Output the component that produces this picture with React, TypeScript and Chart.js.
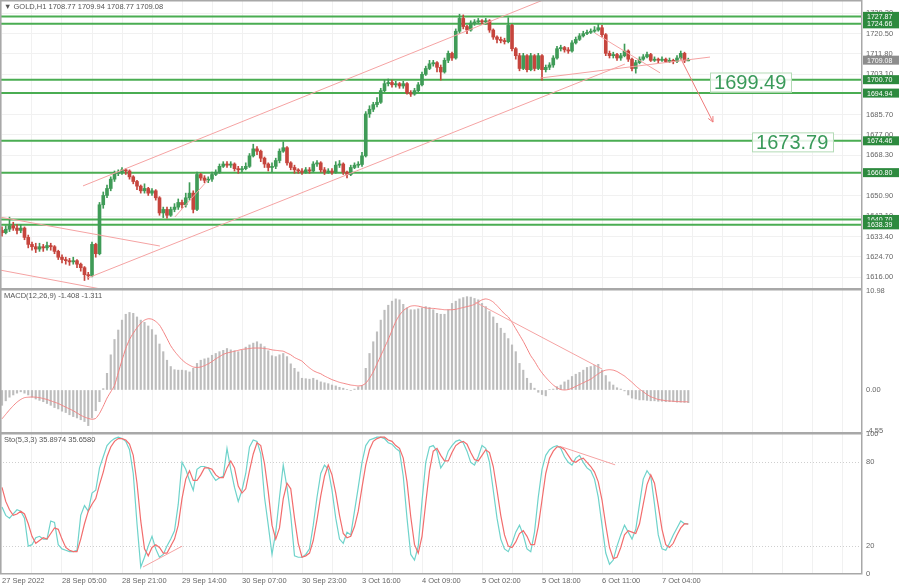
import React, { useEffect, useRef } from "react";
import { Chart, registerables } from "chart.js";

Chart.register(...registerables);

const FONT = "'Liberation Sans', 'DejaVu Sans', Arial, sans-serif";

// ---------- axis labels ----------
const xLabels = [
  "27 Sep 2022", "28 Sep 05:00", "28 Sep 21:00", "29 Sep 14:00", "30 Sep 07:00", "30 Sep 23:00",
  "3 Oct 16:00", "4 Oct 09:00", "5 Oct 02:00", "5 Oct 18:00", "6 Oct 11:00", "7 Oct 04:00",
];
const barsPerLabel = 16;
const gridTicks = [0, 8, 16, 24, 32, 40, 48, 56, 64, 72, 80, 88, 96, 104, 112, 120, 128, 136, 144, 152, 160, 168, 176, 184, 192, 200, 208, 216, 224];
const priceTicks = [1616.0, 1624.7, 1633.4, 1642.1, 1650.9, 1668.3, 1677.0, 1685.7, 1703.1, 1711.8, 1720.5, 1729.2];
const macdTicks = [10.98, 0, -4.55];
const stochTicks = [0, 20, 80, 100];
const stochLevels = [20, 80];

// ---------- GOLD H1 candles ----------
const firstOpen = 1636;
const closes = [
  1635, 1636.5, 1638, 1637, 1636, 1637, 1633, 1630, 1629, 1628,
  1629, 1628.5, 1629.5, 1629, 1627, 1624.5, 1623.5, 1623, 1622.5, 1623,
  1621.5, 1620, 1617, 1616.5, 1630, 1626, 1647, 1651, 1654, 1658,
  1660.5, 1661, 1662, 1661.5, 1659, 1657, 1655, 1653, 1654, 1652,
  1653, 1650, 1643.5, 1645, 1642.5, 1645, 1646, 1648, 1647, 1650,
  1652, 1645, 1660, 1658.5, 1657.5, 1658, 1660, 1661, 1663.5, 1664.5,
  1664, 1664.5, 1662.5, 1662, 1662.5, 1663.5, 1668, 1671, 1670, 1667,
  1664.5, 1663, 1663.5, 1666, 1670, 1671.5, 1665, 1663, 1662, 1661.5,
  1661, 1662, 1661.5, 1664.5, 1665, 1662, 1661, 1661.5, 1661, 1664,
  1664.5, 1661, 1660, 1663, 1664, 1664.3, 1668, 1686, 1688, 1690,
  1691, 1696, 1699, 1699.5, 1698.5, 1699, 1698, 1699, 1695, 1694.5,
  1696, 1698.5, 1703, 1705.5, 1707.5, 1708, 1706, 1704, 1709, 1712,
  1710, 1721.5, 1727, 1723.5, 1722, 1725, 1725.5, 1726, 1725.5, 1726,
  1722, 1719, 1718, 1717.5, 1717, 1724, 1714, 1711, 1705.5, 1711,
  1705, 1711, 1705.5, 1711, 1705, 1706, 1707, 1710, 1714, 1714.5,
  1713.5, 1713, 1716.5, 1718, 1719.5, 1720.5, 1721, 1721.5, 1722, 1723,
  1720, 1712, 1711, 1711.5, 1710, 1711, 1713, 1709.5, 1705.5, 1708,
  1709.5, 1710.5, 1711.5, 1709, 1709.5, 1709, 1709.5, 1708.5, 1709, 1708.5,
  1710, 1712, 1708.77, 1709.08,
];
const highs = [
  1637.5, 1638, 1641.7, 1639.5, 1638.5, 1638.5, 1637.5, 1634, 1631, 1630.5,
  1630.5, 1630, 1631, 1630.5, 1629.5, 1627.5, 1625.5, 1624.5, 1624, 1624.5,
  1623.5, 1622, 1620.5, 1618, 1631, 1630.5, 1648, 1652.5, 1655.5, 1659,
  1661.5, 1662, 1663, 1662.5, 1662, 1659.5, 1657.5, 1655.5, 1656, 1654.5,
  1654, 1653.5, 1650.5, 1646, 1646, 1646, 1647.5, 1649.5, 1649, 1652,
  1656.5, 1653, 1661, 1660.5, 1659.5, 1659, 1661, 1662, 1664.5, 1665.5,
  1665.5, 1665.5, 1665, 1663.5, 1663.5, 1665, 1669, 1673, 1672, 1670.5,
  1667.5, 1665, 1665, 1667, 1671, 1674, 1672, 1665.5, 1664, 1662.5,
  1662.5, 1663, 1663, 1665.5, 1666, 1665.5, 1663, 1662.5, 1662.5, 1665.5,
  1666, 1665, 1661.5, 1664, 1665, 1665.5, 1669.5, 1687, 1689.5, 1691,
  1693, 1697, 1700.5, 1701, 1700.5, 1700, 1699.5, 1700, 1699.5, 1696,
  1697, 1699.5, 1704, 1706.5, 1709, 1709, 1708.5, 1707, 1710, 1713,
  1712.5, 1722.5, 1728.8, 1728.5, 1724, 1726, 1726.5, 1727, 1726.5, 1727,
  1726.5, 1722.5, 1719.5, 1719, 1718.5, 1727.3, 1724.5, 1714.5, 1712, 1712,
  1711.5, 1712, 1711.5, 1712, 1711.5, 1707, 1708, 1711, 1715, 1715.5,
  1715, 1714.5, 1717.5, 1719, 1720.5, 1721.5, 1722, 1722.5, 1723.5, 1724.5,
  1724, 1720.5, 1713, 1712.5, 1712, 1712, 1716, 1713.5, 1710, 1709,
  1710.5, 1711.5, 1712.5, 1712, 1710.5, 1710, 1710.5, 1710, 1710, 1709.5,
  1711, 1713, 1712.5, 1709.94,
];
const lows = [
  1633.5, 1634.5, 1635.5, 1636, 1634.5, 1635, 1632, 1628.5, 1627.5, 1626.5,
  1627, 1627, 1627.5, 1627.5, 1626, 1623.5, 1622, 1621.5, 1621, 1621.5,
  1620, 1618.5, 1614.5, 1615, 1616, 1624.5, 1625.5, 1645.5, 1650, 1653,
  1657, 1659.5, 1660, 1660, 1658, 1656, 1653.5, 1652, 1652, 1651,
  1651, 1649, 1642.5, 1641.5, 1641.3, 1642, 1644, 1645, 1645.5, 1646,
  1649, 1643.5, 1644.5, 1657.5, 1656.5, 1656.5, 1657, 1659.5, 1660.5, 1663,
  1663, 1663, 1661.5, 1660.5, 1661, 1662, 1663, 1667.5, 1668.5, 1665.5,
  1663, 1661.5, 1661, 1662.5, 1665, 1669.5, 1664, 1662, 1660.5, 1660.5,
  1660, 1660.5, 1660.5, 1661, 1663.5, 1661, 1660, 1660.5, 1660, 1660.5,
  1663, 1660, 1658.5, 1659.5, 1662.5, 1663, 1663.5, 1667.5, 1684.5, 1687,
  1689, 1690.5, 1695.5, 1698, 1697.5, 1697.5, 1697, 1697, 1694.5, 1693.5,
  1694, 1695.5, 1698, 1702.5, 1705, 1706.5, 1704, 1700.5, 1703.5, 1708,
  1709, 1709.5, 1720.5, 1722.5, 1720.5, 1721.5, 1724, 1725, 1724.5, 1724.5,
  1721, 1718, 1716.5, 1716.5, 1716, 1716.5, 1713, 1709.5, 1704.5, 1705,
  1704, 1704.5, 1704.5, 1705, 1700.5, 1704, 1705, 1706, 1709.5, 1713,
  1712.5, 1712, 1712.5, 1716, 1717.5, 1719, 1720, 1720.5, 1721, 1721.5,
  1719, 1711, 1710, 1710, 1709, 1709, 1710.5, 1708.5, 1704.5, 1703.5,
  1707.5, 1709, 1710, 1708.5, 1708.5, 1708, 1708.5, 1708, 1708, 1707.5,
  1708, 1709.5, 1708, 1708.77,
];

// ---------- MACD(12,26,9) ----------
const macdHist = [
  -1.7, -1.2, -0.8, -0.55, -0.35, -0.2, -0.35, -0.55, -0.8, -1.0,
  -1.15, -1.3, -1.5, -1.7, -1.95, -2.1, -2.35, -2.5, -2.75, -2.95,
  -3.1, -3.3, -3.5, -3.95, -3.1, -2.3, -1.3, 0.15, 1.85, 3.9,
  5.6, 6.65, 7.75, 8.4, 8.6, 8.5, 8.1, 7.75, 7.5, 7.1,
  6.7, 6.1, 5.1, 4.25, 3.3, 2.6, 2.25, 2.2, 2.2, 2.15,
  2.0, 2.4, 2.95, 3.3, 3.45, 3.55, 3.85, 4.05, 4.25, 4.4,
  4.6, 4.45, 4.35, 4.25, 4.4, 4.75, 5.0, 5.2, 5.35, 5.1,
  4.8, 4.35, 3.8, 3.7, 3.9, 4.05, 3.7, 2.9, 2.4, 2.0,
  1.3, 1.25, 1.2, 1.3, 1.1, 0.9, 0.8, 0.7, 0.55, 0.45,
  0.3, 0.2, 0.05, -0.05, 0.1, 0.35, 0.5, 2.4, 4.05, 5.35,
  6.45, 7.75, 8.85, 9.4, 9.85, 10.1, 10.0, 9.5, 9.1, 8.9,
  8.9, 9.0, 9.1, 9.25, 9.15, 8.9, 8.5, 8.4, 8.4, 8.9,
  9.6, 9.85, 10.1, 10.25, 10.35, 10.3, 10.15, 10.0, 9.6, 9.25,
  8.7, 8.1, 7.4, 6.85, 6.3, 5.7, 5.0, 4.25, 2.95, 2.2,
  1.3, 0.75, 0.2, -0.25, -0.5, -0.65, 0.05, 0.1, 0.37, 0.55,
  0.9, 1.1, 1.5, 1.75, 1.95, 2.2, 2.5, 2.6, 2.75, 2.85,
  2.2, 1.6, 0.9, 0.55, 0.25, 0.1, -0.1, -0.55, -0.9, -1.0,
  -1.1, -1.1, -1.15, -1.2, -1.2, -1.25, -1.25, -1.3, -1.3, -1.3,
  -1.35, -1.35, -1.38, -1.408,
];
const macdSignal = [
  -3.2, -2.7, -2.2, -1.75, -1.35, -1.05, -0.85, -0.8, -0.78, -0.8,
  -0.85, -0.95, -1.05, -1.2, -1.35, -1.5, -1.7, -1.9, -2.1, -2.3,
  -2.55, -2.8, -3.0, -3.15, -3.25, -3.15, -2.6, -1.8, -0.9, -0.2,
  0.5, 1.9, 3.3, 4.6, 5.6, 6.3, 6.9, 7.4, 7.75, 7.9,
  7.85, 7.6, 7.2, 6.5, 5.7, 4.9, 4.3, 3.8, 3.35, 3.0,
  2.75, 2.55, 2.5, 2.55, 2.7, 2.9, 3.15, 3.45, 3.7, 3.95,
  4.1, 4.2, 4.3, 4.4, 4.5, 4.55, 4.6, 4.65, 4.65, 4.65,
  4.6, 4.55, 4.45, 4.4, 4.35, 4.3, 4.1, 3.9, 3.6, 3.4,
  3.2, 2.8, 2.45, 2.15, 1.95, 1.8, 1.55, 1.35, 1.15, 1.0,
  0.85, 0.75, 0.65, 0.55, 0.5, 0.45, 0.5, 0.75, 1.3, 2.0,
  2.9, 3.8, 4.7, 5.6, 6.6, 7.6, 8.3, 8.8, 9.1, 9.3,
  9.35, 9.3, 9.2, 9.1, 9.05, 9.05, 9.0, 8.95, 8.9, 8.9,
  8.9, 8.95, 9.05, 9.15, 9.25, 9.35, 9.5, 9.75, 10.0, 10.1,
  10.0, 9.75, 9.35, 8.9, 8.45, 8.1, 7.5, 6.8, 6.1, 5.4,
  4.6, 3.8, 3.2, 2.5, 1.9, 1.4, 0.95, 0.55, 0.25, 0.05,
  0.0, 0.05, 0.2, 0.4, 0.6, 0.8, 1.0, 1.2, 1.5, 1.8,
  2.05, 2.2, 2.25, 2.2, 2.05, 1.8, 1.55, 1.2, 0.85, 0.45,
  0.1, -0.2, -0.5, -0.75, -0.9, -1.05, -1.12, -1.18, -1.22, -1.25,
  -1.28, -1.3, -1.3, -1.311,
];

// ---------- Stochastic(5,3,3) ----------
const stochK = [
  48, 42, 40, 43, 46, 45, 40, 20, 21, 26,
  27, 25, 25, 38, 37, 21, 18, 17, 16, 16,
  17, 42, 49, 45, 58, 60, 76, 84, 92, 95,
  97, 98, 97, 95, 89, 72, 36, 5, 12, 20,
  27, 18, 12, 14, 20, 25, 31, 50, 80, 75,
  67, 60, 75, 77, 77, 76, 71, 67, 69, 70,
  90, 75, 62, 52, 60, 72, 91, 96, 95, 86,
  55, 35, 14, 30, 55, 78, 62, 42, 13, 12,
  12, 14, 18, 35, 55, 72, 78, 75, 60, 40,
  25, 22, 30, 28, 45, 62, 80, 92, 96, 97,
  98, 98, 97, 94, 93, 90, 88, 70, 40, 14,
  10, 20, 52, 80, 91, 92, 88, 76, 80, 88,
  92, 95, 96, 94, 88, 80, 78, 84, 92, 90,
  80, 60, 40, 25, 18, 16, 22, 30, 35, 28,
  18, 16, 30, 55, 75, 85, 89, 91, 92, 90,
  84, 80, 78, 83, 85, 80, 76, 74, 68, 55,
  35, 15, 7, 10, 20, 28, 35, 30, 25, 32,
  50, 68, 74, 70, 50, 28, 18, 17, 22, 28,
  33, 38, 36, 35.8974,
];
const stochD = [
  62, 52, 46, 42, 43, 45, 43, 36, 27, 22,
  24, 26, 25, 29, 33, 32, 25, 19, 17, 16,
  16, 25, 36, 45, 50, 54, 64, 73, 84, 91,
  95, 97, 97, 96, 93, 85, 65, 38, 18, 13,
  19, 21, 19, 15, 15, 20, 25, 35, 54, 68,
  74, 67, 67, 71, 76, 76, 75, 71, 69, 69,
  76, 81, 76, 63, 58, 61, 74, 86, 94, 92,
  79, 59, 35, 25, 33, 54, 65, 61, 40, 22,
  12, 13, 15, 24, 39, 56, 70, 78, 71, 58,
  42, 29, 26, 27, 34, 45, 62, 78, 89, 95,
  97, 98, 98, 96, 95, 92, 90, 83, 66, 41,
  21, 15, 27, 51, 74, 88, 90, 85, 81, 81,
  87, 92, 94, 95, 93, 87, 82, 81, 85, 89,
  87, 77, 60, 42, 28, 20, 19, 23, 29, 31,
  27, 21, 21, 34, 53, 72, 83, 88, 91, 91,
  89, 85, 81, 80, 82, 83, 80, 77, 73, 66,
  53, 35, 19, 11, 12, 19, 28, 31, 30, 29,
  36, 50, 64, 71, 65, 49, 32, 21, 19, 22,
  28, 33, 36, 35.658,
];

// ---------- drawing objects ----------
const levels = [1727.87, 1724.66, 1700.7, 1694.94, 1674.46, 1660.8, 1640.7, 1638.39];
const currentPrice = 1709.08;
const targetPrices = [1699.49, 1673.79];
const targetBars = [188.8, 200];
const priceTrendLines = [
  [[21.6, 1655.1], [144.3, 1734.9]],
  [[22.9, 1615.6], [166.1, 1707.4]],
  [[143.5, 1701.4], [188.8, 1710.4]],
  [[158.1, 1720.7], [175.5, 1703.6]],
  [[-0.6, 1641.75], [42.1, 1629.3]],
  [[-0.6, 1619.0], [26.5, 1610.8]],
  [[46.1, 1641.75], [54.9, 1657.6]],
];
const arrowLine = [[180.8, 1710.4], [189.6, 1682.5]];
const macdTrendLines = [[[126.1, 9.76], [160, 2.33]]];
const stochTrendLines = [
  [[37.6, 5], [48, 19.9]],
  [[149.3, 91], [163.5, 78.2]],
];

const mainTitle = "▼ GOLD,H1 1708.77 1709.94 1708.77 1709.08";
const macdTitle = "MACD(12,26,9) -1.408 -1.311";
const stochTitle = "Sto(5,3,3) 35.8974 35.6580";

// ---------- style ----------
const UP = "#3f9b57";
const DOWN = "#c6453d";
const LEVEL = "#4aad52";
const LEVEL_LABEL = "#2d8a3e";
const TREND = "#f5a3a3";
const SIGNAL = "#f38383";
const HIST = "#bdbdbd";
const K_COLOR = "#6fd3cb";
const D_COLOR = "#f26d6d";
const GRID = "#f1f1f1";
const FRAME = "#a8a8a8";
const TEXT = "#666";
const X_MIN = -0.533;
const X_MAX = 229.33;
const AXIS_W = 38;
const PAD = 6;

const opens = closes.map((c, i) => (i === 0 ? firstOpen : closes[i - 1]));
const candleColors = closes.map((c, i) => (c >= opens[i] ? UP : DOWN));

function segDatasets(lines: number[][][], color: string, order = 0) {
  return lines.map((l) => ({
    type: "line" as const,
    data: l.map((p) => ({ x: p[0], y: p[1] })),
    borderColor: color,
    borderWidth: 1,
    pointRadius: 0,
    fill: false,
    tension: 0,
    order,
  }));
}

function noPad(s: any) {
  s.paddingTop = 0;
  s.paddingBottom = 0;
  s.paddingLeft = 0;
  s.paddingRight = 0;
}

function xScale(showLabels: boolean) {
  return {
    type: "linear" as const,
    min: X_MIN,
    max: X_MAX,
    offset: false,
    grid: { color: GRID, drawTicks: false, offset: false },
    border: { display: false },
    ticks: showLabels
      ? {
          display: true,
          autoSkip: false,
          maxRotation: 0,
          minRotation: 0,
          align: "start" as const,
          padding: 2,
          color: TEXT,
          font: { family: FONT, size: 7.5 },
          callback: (v: any) =>
            v % barsPerLabel === 0 && v / barsPerLabel < xLabels.length ? xLabels[v / barsPerLabel] : "",
        }
      : { display: false },
    afterBuildTicks: (s: any) => {
      s.ticks = gridTicks.map((v) => ({ value: v }));
    },
    afterFit: (s: any) => {
      s.height = showLabels ? 11 : 0;
      noPad(s);
    },
  };
}

function yScale(min: number, max: number, ticks: number[], fmt: (v: number) => string, gridOn: boolean) {
  return {
    position: "right" as const,
    min,
    max,
    grid: { color: gridOn ? GRID : "rgba(0,0,0,0)", drawTicks: false },
    border: { display: false },
    ticks: {
      color: TEXT,
      font: { family: FONT, size: 7.5 },
      padding: 4,
      autoSkip: false,
      callback: (v: any) => fmt(Number(v)),
    },
    afterBuildTicks: (s: any) => {
      s.ticks = ticks.map((v) => ({ value: v }));
    },
    afterFit: (s: any) => {
      s.width = AXIS_W;
      noPad(s);
    },
  };
}

function framePlugin(title: string) {
  return {
    id: "frame_" + title.slice(0, 4),
    afterDraw(chart: any) {
      const { ctx, chartArea: a } = chart;
      ctx.save();
      ctx.strokeStyle = FRAME;
      ctx.lineWidth = 1.5;
      ctx.strokeRect(a.left + 0.75, a.top + 0.75, a.right - a.left - 1, a.bottom - a.top - 1);
      ctx.fillStyle = "#555";
      ctx.font = `7.5px ${FONT}`;
      ctx.textBaseline = "top";
      ctx.textAlign = "left";
      ctx.fillText(title, a.left + 4, a.top + 3);
      ctx.restore();
    },
  };
}

const mainOverlay = {
  id: "mainOverlay",
  afterDraw(chart: any) {
    const { ctx, chartArea: a } = chart;
    const xs = chart.scales.x;
    const ys = chart.scales.y;
    ctx.save();
    // arrow head
    const x1 = xs.getPixelForValue(arrowLine[0][0]);
    const y1 = ys.getPixelForValue(arrowLine[0][1]);
    const x2 = xs.getPixelForValue(arrowLine[1][0]);
    const y2 = ys.getPixelForValue(arrowLine[1][1]);
    const ang = Math.atan2(y2 - y1, x2 - x1);
    ctx.strokeStyle = "#ef7b7b";
    ctx.lineWidth = 1;
    ctx.beginPath();
    ctx.moveTo(x2, y2);
    ctx.lineTo(x2 - 6 * Math.cos(ang - 0.45), y2 - 6 * Math.sin(ang - 0.45));
    ctx.moveTo(x2, y2);
    ctx.lineTo(x2 - 6 * Math.cos(ang + 0.45), y2 - 6 * Math.sin(ang + 0.45));
    ctx.stroke();

    // target callouts
    targetPrices.forEach((p, k) => {
      const x = xs.getPixelForValue(targetBars[k]);
      const y = ys.getPixelForValue(p);
      ctx.fillStyle = "rgba(255,255,255,0.85)";
      ctx.fillRect(x, y - 10, 82, 20);
      ctx.strokeStyle = "#b4dbb7";
      ctx.lineWidth = 1;
      ctx.strokeRect(x + 0.5, y - 9.5, 81, 19);
      ctx.fillStyle = "#3a9a5a";
      ctx.font = `20px ${FONT}`;
      ctx.textBaseline = "middle";
      ctx.textAlign = "left";
      ctx.fillText(p.toFixed(2), x + 4, y + 1);
    });

    // price labels on axis
    ctx.font = `7px ${FONT}`;
    ctx.textBaseline = "middle";
    const drawTag = (v: number, bg: string) => {
      const y = ys.getPixelForValue(v);
      ctx.fillStyle = bg;
      ctx.fillRect(a.right + 1, y - 4.5, 36, 9);
      ctx.fillStyle = "#fff";
      ctx.fillText(v.toFixed(2), a.right + 5, y + 0.5);
    };
    levels.forEach((v) => drawTag(v, LEVEL_LABEL));
    drawTag(currentPrice, "#8c8c8c");
    ctx.restore();
  },
};

const stochLevelPlugin = {
  id: "stochLevels",
  beforeDatasetsDraw(chart: any) {
    const { ctx, chartArea: a } = chart;
    const ys = chart.scales.y;
    ctx.save();
    ctx.strokeStyle = "#cfcfcf";
    ctx.lineWidth = 1;
    ctx.setLineDash([1, 2]);
    stochLevels.forEach((v) => {
      const y = Math.round(ys.getPixelForValue(v)) + 0.5;
      ctx.beginPath();
      ctx.moveTo(a.left, y);
      ctx.lineTo(a.right, y);
      ctx.stroke();
    });
    ctx.restore();
  },
};

function baseOptions(padTop: number, padBottom: number) {
  return {
    animation: false as const,
    responsive: false,
    maintainAspectRatio: false,
    layout: { padding: { top: padTop, bottom: padBottom, left: 0, right: 0 } },
    events: [] as any[],
    plugins: { legend: { display: false }, tooltip: { enabled: false } },
  };
}

export default function App() {
  const mainRef = useRef<HTMLCanvasElement>(null);
  const macdRef = useRef<HTMLCanvasElement>(null);
  const stochRef = useRef<HTMLCanvasElement>(null);

  useEffect(() => {
    const charts: Chart[] = [];

    charts.push(
      new Chart(mainRef.current as HTMLCanvasElement, {
        type: "bar",
        data: {
          datasets: [
            ...levels.map((L) => ({
              type: "line" as const,
              data: [
                { x: X_MIN - 1, y: L },
                { x: X_MAX + 1, y: L },
              ],
              borderColor: LEVEL,
              borderWidth: 2,
              pointRadius: 0,
              fill: false,
              order: 5,
            })),
            {
              type: "bar" as const,
              data: closes.map((c, i) => ({ x: i, y: [lows[i], highs[i]] })),
              backgroundColor: candleColors,
              borderWidth: 0,
              barThickness: 1,
              grouped: false,
              order: 2,
            },
            {
              type: "bar" as const,
              data: closes.map((c, i) => ({ x: i, y: [opens[i], c] })),
              backgroundColor: candleColors,
              borderWidth: 0,
              barThickness: 3,
              minBarLength: 1,
              grouped: false,
              order: 1,
            },
            ...segDatasets(priceTrendLines, TREND, 0),
            ...segDatasets([arrowLine], "#ef7b7b", 0),
          ] as any,
        },
        options: {
          ...baseOptions(0, 0),
          scales: {
            x: xScale(false),
            y: yScale(1610.85, 1734.9, priceTicks, (v) => v.toFixed(2), true),
          },
        } as any,
        plugins: [framePlugin(mainTitle), mainOverlay],
      })
    );

    charts.push(
      new Chart(macdRef.current as HTMLCanvasElement, {
        type: "bar",
        data: {
          datasets: [
            {
              type: "bar" as const,
              data: macdHist.map((v, i) => ({ x: i, y: v })),
              backgroundColor: HIST,
              borderWidth: 0,
              barThickness: 1.5,
              grouped: false,
              order: 3,
            },
            {
              type: "line" as const,
              data: macdSignal.map((v, i) => ({ x: i, y: v })),
              borderColor: SIGNAL,
              borderWidth: 1,
              pointRadius: 0,
              fill: false,
              tension: 0.2,
              order: 1,
            },
            ...segDatasets(macdTrendLines, TREND, 0),
          ] as any,
        },
        options: {
          ...baseOptions(PAD, PAD),
          scales: {
            x: xScale(false),
            y: yScale(-4.77, 11.2, macdTicks, (v) => v.toFixed(2), false),
          },
        } as any,
        plugins: [framePlugin(macdTitle)],
      })
    );

    charts.push(
      new Chart(stochRef.current as HTMLCanvasElement, {
        type: "line",
        data: {
          datasets: [
            {
              data: stochK.map((v, i) => ({ x: i, y: v })),
              borderColor: K_COLOR,
              borderWidth: 1.2,
              pointRadius: 0,
              fill: false,
              tension: 0,
              order: 2,
            },
            {
              data: stochD.map((v, i) => ({ x: i, y: v })),
              borderColor: D_COLOR,
              borderWidth: 1.2,
              pointRadius: 0,
              fill: false,
              tension: 0,
              order: 1,
            },
            ...segDatasets(stochTrendLines, TREND, 0),
          ] as any,
        },
        options: {
          ...baseOptions(PAD, 0),
          scales: {
            x: xScale(true),
            y: yScale(0, 101, stochTicks, (v) => String(Math.round(v)), false),
          },
        } as any,
        plugins: [framePlugin(stochTitle), stochLevelPlugin],
      })
    );

    return () => charts.forEach((c) => c.destroy());
  }, []);

  const cv = (top: number): React.CSSProperties => ({ position: "absolute", left: 0, top, display: "block" });

  return (
    <div style={{ position: "absolute", left: 0, top: 0, width: 900, height: 585, background: "#fff", overflow: "hidden" }}>
      <canvas ref={mainRef} width={900} height={289} style={cv(0)} />
      <canvas ref={macdRef} width={900} height={144 + 2 * PAD} style={cv(289 - PAD)} />
      <canvas ref={stochRef} width={900} height={152 + PAD} style={cv(433 - PAD)} />
    </div>
  );
}
